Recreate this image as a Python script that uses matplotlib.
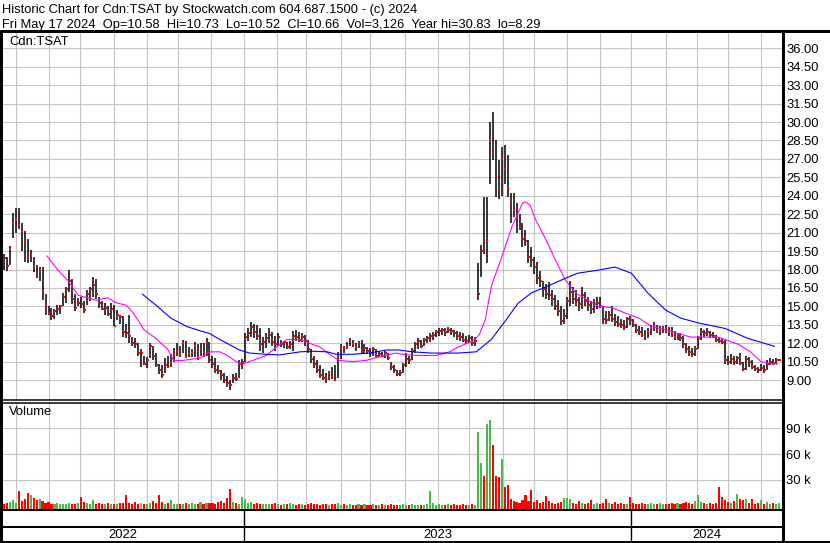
import numpy as np
import pandas as pd
import matplotlib
matplotlib.use('Agg')
import matplotlib.pyplot as plt
from matplotlib.lines import Line2D

plt.rcParams['font.family'] = ['Liberation Sans', 'DejaVu Sans']

# trading days covered by the chart
days = pd.bdate_range('2022-05-20', '2024-05-17')

# one bar every second trading day (high / low / close)
hi = [19.3, 19.0, 19.9, 22.6, 23.0, 23.0, 21.8, 21.1, 20.5, 19.6,
      19.0, 18.4, 18.2, 18.2, 16.0, 15.0, 14.9, 14.8, 15.1, 15.1,
      16.1, 16.6, 18.0, 17.2, 16.0, 15.7, 15.8, 15.4, 16.3, 16.6,
      17.4, 17.2, 15.8, 15.4, 15.3, 15.0, 15.3, 15.1, 14.7, 14.3,
      14.2, 13.6, 14.3, 12.5, 12.4, 12.0, 11.5, 11.0, 10.9, 12.0,
      11.8, 11.2, 10.3, 10.2, 10.8, 11.0, 11.1, 11.6, 12.0, 11.8,
      12.3, 12.2, 11.7, 11.5, 12.1, 11.9, 12.0, 12.0, 12.4, 12.1,
      11.0, 10.8, 10.2, 9.8, 9.6, 9.3, 9.0, 9.5, 9.6, 10.6,
      10.7, 12.8, 13.2, 13.7, 13.6, 13.5, 13.2, 12.5, 12.8, 13.2,
      12.9, 12.6, 12.8, 12.3, 12.2, 12.1, 12.2, 13.0, 13.1, 12.9,
      12.8, 12.7, 12.3, 11.5, 11.0, 10.6, 10.2, 9.9, 9.6, 9.7,
      10.1, 10.2, 11.3, 11.9, 11.8, 12.1, 12.4, 12.3, 12.0, 12.2,
      12.3, 11.9, 11.7, 11.6, 11.7, 11.5, 11.4, 11.3, 11.4, 11.2,
      10.5, 10.2, 9.8, 9.8, 10.4, 11.2, 11.0, 11.6, 12.1, 12.4,
      12.3, 12.4, 12.6, 12.8, 12.9, 13.1, 13.2, 13.2, 13.2, 13.3,
      13.2, 13.1, 13.0, 12.9, 12.8, 12.6, 12.7, 12.6, 12.5, 18.5,
      20.0, 23.9, 23.9, 30.0, 30.8, 28.5, 26.9, 28.0, 28.1, 27.3,
      24.2, 24.2, 23.4, 22.5, 21.8, 21.2, 20.4, 19.8, 19.0, 18.6,
      17.9, 17.1, 16.8, 17.0, 16.3, 15.9, 15.5, 15.0, 14.8, 15.8,
      17.1, 16.6, 16.3, 15.8, 16.6, 16.2, 15.8, 15.4, 15.6, 15.8,
      15.8, 15.0, 14.6, 14.6, 15.0, 14.4, 14.2, 14.0, 13.9, 14.1,
      14.2, 14.0, 13.6, 13.4, 13.3, 13.1, 13.2, 13.5, 13.7, 13.5,
      13.4, 13.4, 13.5, 13.3, 13.3, 13.0, 12.8, 12.8, 12.6, 12.0,
      11.8, 11.6, 11.8, 12.6, 13.2, 13.1, 13.2, 13.0, 12.9, 12.7,
      12.5, 12.4, 12.3, 11.0, 11.1, 11.0, 11.0, 11.2, 10.5, 11.0,
      10.9, 10.6, 10.2, 10.1, 10.3, 10.2, 10.6, 10.8, 10.7, 10.8,
      10.73]
lo = [18.0, 17.9, 18.4, 20.6, 21.0, 21.3, 19.5, 18.6, 18.5, 18.6,
      17.8, 17.3, 17.1, 15.5, 14.3, 14.3, 13.9, 14.0, 14.3, 14.4,
      15.0, 15.3, 16.2, 15.2, 14.6, 15.0, 14.9, 14.5, 15.1, 15.4,
      15.8, 15.6, 14.9, 14.7, 14.3, 14.2, 14.0, 13.4, 13.9, 13.6,
      12.5, 12.4, 12.0, 11.8, 11.6, 11.0, 10.1, 10.2, 10.0, 10.8,
      10.6, 10.1, 9.5, 9.2, 9.6, 10.0, 10.1, 10.5, 11.0, 10.9,
      11.2, 10.8, 10.9, 10.9, 10.9, 10.6, 11.0, 10.9, 11.0, 10.4,
      10.0, 9.6, 9.5, 9.0, 8.8, 8.4, 8.2, 8.8, 8.9, 9.2,
      9.9, 10.5, 12.2, 12.5, 12.4, 12.3, 11.4, 11.2, 11.6, 12.0,
      11.8, 11.4, 11.8, 11.7, 11.6, 11.5, 11.5, 11.4, 12.2, 12.1,
      12.1, 11.8, 11.2, 10.4, 10.0, 9.6, 9.2, 9.0, 8.8, 9.0,
      9.1, 8.9, 9.2, 10.7, 11.2, 11.5, 11.8, 11.7, 11.4, 11.6,
      11.2, 11.2, 11.1, 10.9, 11.0, 10.9, 10.9, 10.9, 10.8, 10.6,
      9.8, 9.6, 9.3, 9.3, 9.6, 10.1, 10.3, 10.6, 11.2, 11.5,
      11.6, 11.8, 12.0, 12.1, 12.3, 12.5, 12.6, 12.7, 12.6, 12.8,
      12.7, 12.5, 12.3, 12.2, 12.1, 11.9, 12.0, 11.8, 11.8, 15.5,
      17.4, 19.3, 18.5, 25.0, 26.9, 23.9, 23.7, 24.0, 25.0, 23.9,
      21.8, 22.3, 21.0, 21.2, 19.8, 19.9, 18.5, 18.2, 17.6, 16.8,
      16.6, 15.8, 15.6, 15.5, 15.0, 14.7, 14.2, 13.5, 13.6, 14.0,
      15.0, 15.2, 15.0, 14.6, 14.8, 15.0, 14.6, 14.4, 14.5, 14.8,
      14.9, 13.6, 13.6, 13.8, 13.7, 13.4, 13.3, 13.2, 13.1, 13.2,
      13.5, 13.3, 12.8, 12.7, 12.5, 12.3, 12.4, 12.7, 13.0, 12.8,
      12.7, 12.8, 12.8, 12.6, 12.5, 12.3, 12.3, 12.2, 11.6, 11.2,
      11.0, 10.9, 11.0, 11.5, 12.3, 12.5, 12.6, 12.4, 12.4, 12.1,
      12.0, 11.9, 10.3, 10.2, 10.3, 10.2, 10.3, 10.2, 9.7, 9.8,
      10.1, 9.9, 9.7, 9.6, 9.7, 9.6, 9.8, 10.2, 10.2, 10.3,
      10.52]
cl = [18.9, 18.3, 19.7, 21.8, 22.0, 21.6, 21.1, 20.2, 19.0, 19.2,
      18.3, 17.6, 17.9, 16.2, 15.0, 14.5, 14.2, 14.6, 14.8, 15.0,
      15.8, 16.4, 17.1, 15.6, 14.9, 15.3, 15.2, 14.7, 16.0, 16.4,
      16.7, 16.0, 15.3, 14.8, 14.9, 14.4, 14.8, 13.4, 14.3, 14.1,
      12.9, 12.8, 12.6, 12.0, 11.9, 11.2, 11.2, 10.3, 10.6, 11.8,
      11.0, 10.2, 9.8, 9.4, 10.2, 10.1, 10.4, 11.3, 11.4, 11.1,
      12.0, 11.0, 11.1, 11.2, 11.8, 10.9, 11.5, 11.3, 12.0, 10.6,
      10.3, 9.8, 9.7, 9.4, 9.0, 8.8, 8.6, 9.2, 9.1, 10.3,
      10.5, 12.5, 12.8, 13.3, 12.9, 12.6, 11.9, 12.1, 12.4, 12.7,
      12.1, 11.9, 12.5, 11.9, 12.1, 11.7, 11.9, 12.6, 12.5, 12.3,
      12.5, 12.2, 11.5, 10.7, 10.3, 9.8, 9.4, 9.2, 9.1, 9.5,
      9.3, 9.0, 10.9, 11.6, 11.5, 11.8, 12.2, 11.9, 11.7, 12.0,
      11.4, 11.6, 11.4, 11.2, 11.5, 11.0, 11.1, 11.0, 11.2, 10.8,
      10.1, 9.8, 9.5, 9.6, 10.2, 10.7, 10.6, 11.4, 11.9, 12.2,
      11.8, 12.3, 12.4, 12.6, 12.7, 12.9, 13.0, 13.1, 12.9, 13.1,
      13.0, 12.8, 12.6, 12.5, 12.3, 12.2, 12.4, 12.0, 12.2, 16.0,
      19.5, 19.4, 20.3, 28.5, 27.5, 25.5, 24.5, 27.0, 26.2, 24.6,
      23.5, 22.9, 22.2, 21.5, 20.5, 20.3, 19.0, 18.8, 18.2, 17.3,
      17.1, 16.4, 16.0, 15.9, 15.6, 15.0, 14.6, 13.8, 14.2, 15.4,
      16.2, 15.6, 15.5, 15.2, 15.9, 15.4, 15.1, 14.8, 15.2, 15.3,
      15.0, 14.0, 13.9, 14.3, 14.0, 13.7, 13.6, 13.5, 13.3, 14.0,
      13.9, 13.5, 13.1, 12.9, 12.7, 12.6, 12.9, 13.2, 13.4, 13.0,
      13.1, 13.2, 13.0, 12.9, 12.7, 12.5, 12.6, 12.4, 11.9, 11.5,
      11.3, 11.1, 11.5, 12.4, 12.9, 12.8, 12.9, 12.7, 12.6, 12.3,
      12.2, 12.1, 10.6, 10.5, 10.7, 10.5, 10.8, 10.4, 9.9, 10.7,
      10.5, 10.1, 9.9, 9.8, 10.0, 9.8, 10.3, 10.5, 10.4, 10.6,
      10.66]
# volume in thousands
vol = [2, 3, 4, 6, 3, 17, 5, 8, 14, 12,
       9, 6, 7, 5, 3, 4, 2, 2, 3, 2,
       2, 2, 3, 2, 2, 3, 10, 4, 3, 2,
       6, 2, 3, 2, 2, 3, 2, 2, 2, 3,
       3, 12, 3, 2, 4, 2, 3, 2, 2, 3,
       5, 3, 12, 4, 2, 3, 6, 2, 2, 2,
       2, 3, 2, 3, 2, 2, 4, 2, 3, 3,
       3, 2, 4, 5, 3, 9, 19, 4, 3, 2,
       10, 7, 3, 4, 2, 3, 2, 2, 2, 2,
       2, 3, 2, 1, 2, 2, 3, 2, 1, 2,
       2, 1, 2, 3, 2, 2, 1, 2, 2, 1,
       2, 2, 3, 1, 2, 1, 2, 1, 1, 2,
       1, 2, 1, 1, 2, 1, 1, 2, 1, 1,
       2, 1, 1, 1, 2, 1, 1, 2, 1, 1,
       1, 1, 2, 17, 3, 1, 2, 1, 1, 2,
       1, 2, 1, 1, 2, 1, 1, 2, 1, 86,
       50, 34, 95, 100, 70, 34, 33, 54, 22, 24,
       7, 5, 4, 3, 6, 12, 5, 18, 4, 6,
       3, 4, 11, 5, 3, 2, 3, 4, 9, 9,
       8, 3, 2, 5, 3, 2, 3, 6, 2, 3,
       2, 3, 7, 3, 2, 4, 2, 3, 2, 2,
       10, 3, 2, 2, 3, 2, 2, 3, 2, 2,
       3, 2, 2, 2, 3, 2, 3, 2, 3, 4,
       3, 2, 5, 12, 4, 3, 2, 3, 2, 3,
       21, 10, 6, 4, 3, 5, 13, 8, 6, 8,
       3, 7, 2, 3, 6, 2, 4, 2, 3, 2,
       3.1]

# moving averages (trading day index, price)
ma_s_day = [29, 36, 43, 50, 56, 62, 70, 75, 82, 87, 94, 102, 110, 114, 120,
            132, 138, 145, 150, 156, 160, 167, 176, 183, 190, 199, 205, 212,
            219, 225, 234, 243, 252, 263, 270, 279, 290, 299, 305, 315, 319,
            323, 327, 334, 341, 348, 350, 353, 357, 363, 370, 377, 384, 399,
            408, 417, 426, 434, 444, 452, 461, 470, 479, 484, 493, 501, 508,
            512, 519]
ma_s_val = [19.1, 18.0, 17.1, 15.9, 15.7, 15.5, 15.7, 15.3, 15.1, 14.45, 13.1,
            12.4, 11.5, 10.6, 10.6, 10.8, 11.3, 11.3, 11.0, 10.5, 10.3, 10.6,
            11.0, 11.7, 12.3, 12.3, 12.0, 11.7, 11.05, 10.6, 10.5, 10.6, 10.9,
            11.2, 11.05, 11.0, 11.0, 11.3, 11.7, 12.2, 12.7, 13.9, 16.6, 19.0,
            21.5, 23.4, 23.5, 23.25, 22.0, 20.6, 18.8, 17.1, 16.05, 15.0, 14.9,
            14.45, 14.05, 13.4, 13.1, 12.8, 12.5, 12.5, 12.5, 12.3, 11.9, 11.3,
            10.5, 10.4, 10.3]
ma_l_day = [93, 103, 112, 123, 132, 138, 145, 152, 158, 165, 176, 185, 199,
            207, 217, 223, 234, 245, 257, 265, 274, 287, 305, 317, 327, 337,
            345, 354, 366, 377, 385, 399, 410, 421, 432, 444, 454, 466, 484,
            499, 517]
ma_l_val = [16.0, 15.0, 14.05, 13.35, 13.0, 12.8, 12.3, 11.85, 11.45, 11.2,
            11.1, 11.05, 11.3, 11.35, 11.3, 11.1, 11.1, 11.2, 11.45, 11.45,
            11.3, 11.2, 11.2, 11.3, 12.3, 13.9, 15.25, 16.1, 16.7, 17.3, 17.7,
            17.95, 18.2, 17.7, 16.1, 14.7, 14.05, 13.65, 13.2, 12.4, 11.75]

price_ticks = np.arange(9, 36.01, 1.5)
vol_ticks = [30, 60, 90]

title1 = 'Historic Chart for Cdn:TSAT by Stockwatch.com 604.687.1500 - (c) 2024'
title2 = ('Fri May 17 2024  Op=10.58  Hi=10.73  Lo=10.52  Cl=10.66  '
          'Vol=3,126  Year hi=30.83  lo=8.29')

W, H = 830, 543
fig = plt.figure(figsize=(W / 100, H / 100), dpi=100)
fig.patch.set_facecolor('white')


def box(l, t, r, b):
    return [l / W, 1 - b / H, (r - l) / W, (b - t) / H]


def pline(xs, ys, lw):
    fig.add_artist(Line2D([x / W for x in xs], [1 - y / H for y in ys],
                          color='black', lw=lw * 0.72,
                          transform=fig.transFigure, solid_capstyle='butt'))


ax = fig.add_axes(box(2, 32, 782, 400))
axv = fig.add_axes(box(2, 402, 782, 509))
axy = fig.add_axes(box(2, 510, 782, 542))

xlim = (-1.2, 522.1)
n = min(len(hi), len(lo), len(cl), len(vol))
pos = np.arange(n) * 2
hi_a, lo_a, cl_a = np.array(hi[:n]), np.array(lo[:n]), np.array(cl[:n])
vol_a = np.array(vol[:n])

month_idx = [i for i in range(1, len(days)) if days[i].month != days[i - 1].month]
year_idx = [i for i in month_idx if days[i].month == 1]

grid_c = '#c4c4c4'
for a in (ax, axv):
    for m in month_idx:
        a.axvline(m, color=grid_c, lw=0.8, zorder=0)
    a.set_xlim(*xlim)
    a.set_xticks([])
    for s in a.spines.values():
        s.set_visible(False)

# price panel
for t in price_ticks:
    ax.axhline(t, color=grid_c, lw=0.8, zorder=0)
ax.vlines(pos, lo_a, hi_a, color='black', lw=1.1, zorder=2)
ax.plot(pos + 0.5, cl_a, 's', color='red', ms=1.6, mew=0, zorder=3)
ax.plot(ma_s_day, ma_s_val, color='#ff00ff', lw=0.8, zorder=4)
ax.plot(ma_l_day, ma_l_val, color='#0000ff', lw=0.8, zorder=4)
ax.set_ylim(7.38, 37.33)
ax.yaxis.tick_right()
ax.set_yticks(price_ticks)
ax.set_yticklabels(['%.2f' % t for t in price_ticks])
ax.tick_params(axis='y', length=0, pad=3, labelsize=9.4)
ax.text(7 / 780, 0.99, 'Cdn:TSAT', transform=ax.transAxes, fontsize=9.4,
        va='top', ha='left')

# volume panel
vmin = -4.2
for t in vol_ticks:
    axv.axhline(t, color=grid_c, lw=0.8, zorder=0)
chg = np.diff(np.concatenate([[cl_a[0] + 1], cl_a]))
colors = np.where(chg > 0, '#4cb84c', np.where(chg < 0, '#ff0000', '#a0a0a0'))
axv.bar(pos, vol_a - vmin, bottom=vmin, width=1.4, color=colors, lw=0, zorder=2)
axv.set_ylim(vmin, 120.7)
axv.yaxis.tick_right()
axv.set_yticks(vol_ticks)
axv.set_yticklabels(['%d k' % t for t in vol_ticks])
axv.tick_params(axis='y', length=0, pad=3, labelsize=9.4)
axv.text(7 / 780, 0.96, 'Volume', transform=axv.transAxes, fontsize=9.4,
         va='top', ha='left')

# year strip
axy.set_xlim(*xlim)
axy.set_ylim(0, 1)
axy.axis('off')
for yi in year_idx:
    axy.axvline(yi, color='black', lw=1.0)
edges = [xlim[0]] + year_idx + [xlim[1]]
labels = [str(days[0].year)] + [str(days[i].year) for i in year_idx]
for j, lab in enumerate(labels):
    axy.text((edges[j] + edges[j + 1]) / 2, 0.22, lab,
             ha='center', va='center', fontsize=9.4)

# frame lines
pline([0, 830], [31, 31], 3)
pline([1, 1], [30, 543], 3)
pline([782.5, 782.5], [30, 543], 3)
pline([0, 782], [400, 400], 1.5)
pline([0, 782], [402.5, 402.5], 1.5)
pline([0, 782], [509.5, 509.5], 2)
pline([0, 782], [526.5, 526.5], 2)
pline([0, 830], [541.5, 541.5], 3)

fig.text(2 / W, 1 - 10.5 / H, title1, fontsize=9.3, va='center', ha='left')
fig.text(2 / W, 1 - 25 / H, title2, fontsize=9.3, va='center', ha='left')

fig.savefig('out.png', dpi=100)
